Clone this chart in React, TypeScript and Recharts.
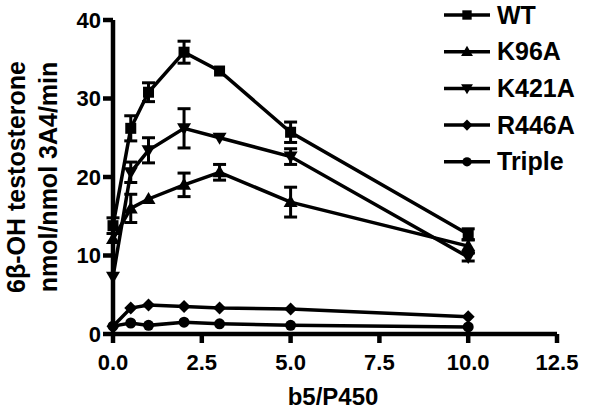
import React from 'react'
import {
  LineChart, Line, XAxis, YAxis, ErrorBar, Legend
} from 'recharts'

const font = '"Liberation Sans", Arial, sans-serif'

// b5/P450 ratio
const ratios = [0, 0.5, 1, 2, 3, 5, 10]

const wt       = [13.8, 26.2, 30.8, 35.9, 33.5, 25.7, 12.7]
const wtErr    = [1.0, 1.6, 1.2, 1.4, 0, 1.3, 0.7]
const k96a     = [12.1, 16.0, 17.2, 19.0, 20.6, 16.8, 11.2]
const k96aErr  = [0, 1.8, 0, 1.5, 1.0, 1.9, 0.8]
const k421a    = [7.3, 20.6, 23.4, 26.2, 25.0, 22.6, 9.8]
const k421aErr = [0, 1.3, 1.6, 2.5, 0, 1.0, 0.5]
const r446a    = [1.0, 3.3, 3.7, 3.5, 3.3, 3.2, 2.2]
const triple   = [1.0, 1.4, 1.1, 1.5, 1.3, 1.1, 0.9]

const xTicks = [0, 2.5, 5, 7.5, 10, 12.5]
const yTicks = [0, 10, 20, 30, 40]

const data = ratios.map((x, i) => ({
  x,
  wt: wt[i], wtErr: wtErr[i],
  k96a: k96a[i], k96aErr: k96aErr[i],
  k421a: k421a[i], k421aErr: k421aErr[i],
  r446a: r446a[i],
  triple: triple[i],
}))

type Shape = 'square' | 'up' | 'down' | 'diamond' | 'circle'

const series: { key: string; name: string; shape: Shape; err?: string }[] = [
  { key: 'wt', name: 'WT', shape: 'square', err: 'wtErr' },
  { key: 'k96a', name: 'K96A', shape: 'up', err: 'k96aErr' },
  { key: 'k421a', name: 'K421A', shape: 'down', err: 'k421aErr' },
  { key: 'r446a', name: 'R446A', shape: 'diamond' },
  { key: 'triple', name: 'Triple', shape: 'circle' },
]

function marker(shape: Shape, cx: number, cy: number, s = 1) {
  switch (shape) {
    case 'square':
      return <rect x={cx - 5.5 * s} y={cy - 5.5 * s} width={11 * s} height={11 * s} fill="#000" />
    case 'up':
      return <polygon points={`${cx},${cy - 7 * s} ${cx + 7 * s},${cy + 5 * s} ${cx - 7 * s},${cy + 5 * s}`} fill="#000" />
    case 'down':
      return <polygon points={`${cx},${cy + 7 * s} ${cx + 7 * s},${cy - 5 * s} ${cx - 7 * s},${cy - 5 * s}`} fill="#000" />
    case 'diamond':
      return <polygon points={`${cx},${cy - 6.5 * s} ${cx + 6.5 * s},${cy} ${cx},${cy + 6.5 * s} ${cx - 6.5 * s},${cy}`} fill="#000" />
    default:
      return <circle cx={cx} cy={cy} r={5.5 * s} fill="#000" />
  }
}

const makeDot = (shape: Shape) => (props: any) => (
  <g key={`${shape}-${props.index}`}>{marker(shape, props.cx, props.cy)}</g>
)

const tickStyle = { fill: '#000', fontSize: 22, fontWeight: 'bold', fontFamily: font }
const axisStroke = { stroke: '#000', strokeWidth: 4.5 }

const renderLegend = () => (
  <svg width={174} height={180}>
    {series.map((s, i) => {
      const y = 15 + i * 36.7
      return (
        <g key={s.key}>
          <line x1={4} x2={50} y1={y} y2={y} stroke="#000" strokeWidth={3.5} />
          {marker(s.shape, 27, y, 0.85)}
          <text x={57} y={y + 8.5} fontSize={25} fontWeight="bold" fontFamily={font} fill="#000">{s.name}</text>
        </g>
      )
    })}
  </svg>
)

const yLabel = () => (
  <g fontFamily={font} fontWeight="bold" fontSize={25} fill="#000">
    <text x={25} y={177} textAnchor="middle" transform="rotate(-90, 25, 177)">6β-OH testosterone</text>
    <text x={57} y={177} textAnchor="middle" transform="rotate(-90, 57, 177)">nmol/nmol 3A4/min</text>
  </g>
)

const xLabel = () => (
  <text x={333} y={405} textAnchor="middle" fontFamily={font} fontWeight="bold" fontSize={24} fill="#000">b5/P450</text>
)

export default function App() {
  return (
    <div style={{ position: 'absolute', left: 0, top: 0 }}>
      <LineChart width={614} height={411} data={data} margin={{ top: 20, right: 57, left: 0, bottom: 0 }}>
        <XAxis
          type="number" dataKey="x" domain={[0, 12.5]} ticks={xTicks}
          tickFormatter={(v: number) => v.toFixed(1)}
          height={77} tick={tickStyle} tickSize={9} tickMargin={11}
          axisLine={axisStroke} tickLine={axisStroke} label={xLabel}
        />
        <YAxis
          type="number" domain={[0, 40]} ticks={yTicks} width={113}
          tick={tickStyle} tickSize={10} tickMargin={2}
          axisLine={axisStroke} tickLine={axisStroke} label={yLabel}
        />
        <Legend layout="vertical" align="center" verticalAlign="middle"
          wrapperStyle={{ left: 440, top: 0, width: 174, height: 180 }} content={renderLegend} />
        {series.map((s) => (
          <Line key={s.key} type="linear" dataKey={s.key} name={s.name} stroke="#000" strokeWidth={3.5}
            dot={makeDot(s.shape)} activeDot={false} isAnimationActive={false}>
            {s.err && <ErrorBar dataKey={s.err} width={6.5} stroke="#000" strokeWidth={3} direction="y" />}
          </Line>
        ))}
      </LineChart>
    </div>
  )
}
